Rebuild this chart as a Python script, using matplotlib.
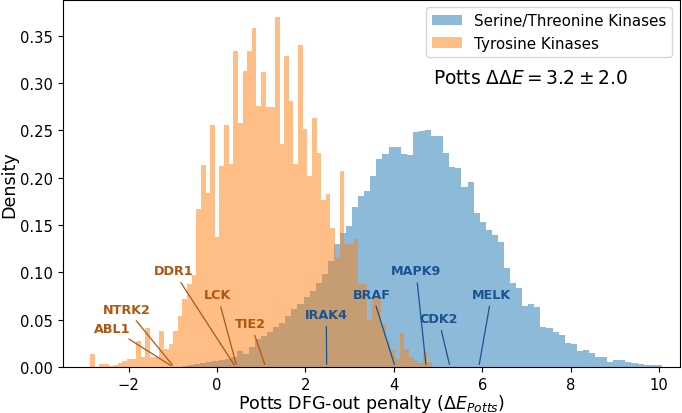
import numpy as np
import matplotlib
matplotlib.use("Agg")
import matplotlib.pyplot as plt

# bin ranges of the two histograms
ser_lo, ser_hi = -0.928, 10.06
tyr_lo, tyr_hi = -2.873, 4.864

# density per bin
ser_dens = [0.0003, 0.0008, 0.002, 0.003, 0.004, 0.005, 0.006, 0.007, 0.008, 0.011,
            0.017, 0.014, 0.021, 0.030, 0.033, 0.0366, 0.042, 0.047, 0.0535, 0.061,
            0.0665, 0.0735, 0.080, 0.089, 0.098, 0.112, 0.130, 0.142, 0.149, 0.169,
            0.181, 0.186, 0.202, 0.220, 0.225, 0.232, 0.233, 0.225, 0.224, 0.248,
            0.249, 0.250, 0.244, 0.244, 0.226, 0.211, 0.210, 0.190, 0.195, 0.163,
            0.153, 0.145, 0.140, 0.132, 0.105, 0.089, 0.084, 0.065, 0.067, 0.063,
            0.0425, 0.041, 0.0366, 0.034, 0.0253, 0.024, 0.017, 0.018, 0.0148, 0.011,
            0.011, 0.0056, 0.007, 0.0077, 0.005, 0.0039, 0.0028, 0.002, 0.002, 0.0017]

tyr_dens = [0.014, 0.0, 0.003, 0.003, 0.001, 0.002, 0.004, 0.006, 0.008, 0.009,
            0.027, 0.011, 0.041, 0.011, 0.011, 0.038, 0.019, 0.024, 0.038, 0.054,
            0.072, 0.088, 0.097, 0.167, 0.213, 0.184, 0.256, 0.137, 0.212, 0.256,
            0.2145, 0.334, 0.258, 0.313, 0.334, 0.358, 0.276, 0.3115, 0.275, 0.275,
            0.370, 0.236, 0.329, 0.281, 0.215, 0.340, 0.252, 0.202, 0.263, 0.226,
            0.176, 0.1825, 0.147, 0.116, 0.207, 0.130, 0.130, 0.135, 0.088, 0.088,
            0.050, 0.073, 0.073, 0.045, 0.028, 0.018, 0.009, 0.036, 0.019, 0.011,
            0.006, 0.004, 0.017, 0.005]

# labelled kinases
tyr_names = ["ABL1", "NTRK2", "DDR1", "LCK", "TIE2"]
tyr_vals = [-0.99, -0.97, 0.42, 0.45, 1.10]
ser_names = ["IRAK4", "BRAF", "MAPK9", "CDK2", "MELK"]
ser_vals = [2.48, 4.03, 4.73, 5.27, 5.92]

# where the label text sits
tyr_txt = [(-2.38, 0.041), (-2.04, 0.061), (-0.99, 0.1016), (0.01, 0.0763), (0.76, 0.046)]
ser_txt = [(2.47, 0.0556), (3.51, 0.077), (4.50, 0.1016), (5.01, 0.0512), (6.21, 0.077)]

fig = plt.figure(figsize=(6.82, 4.14), dpi=100)
ax = fig.add_axes([0.092, 0.111, 0.905, 0.887])

ser_edges = np.linspace(ser_lo, ser_hi, len(ser_dens) + 1)
tyr_edges = np.linspace(tyr_lo, tyr_hi, len(tyr_dens) + 1)
ax.hist(ser_edges[:-1], bins=ser_edges, weights=ser_dens, alpha=0.5,
        label="Serine/Threonine Kinases")
ax.hist(tyr_edges[:-1], bins=tyr_edges, weights=tyr_dens, alpha=0.5,
        label="Tyrosine Kinases")

c_tyr = "#b2560f"
c_ser = "#175490"
for name, v, pos in zip(tyr_names, tyr_vals, tyr_txt):
    ax.annotate(name, xy=(v, 0), xytext=pos, ha="center", va="center",
                fontsize=9.2, fontweight="bold", color=c_tyr,
                arrowprops=dict(arrowstyle="-", color=c_tyr, lw=0.9))
for name, v, pos in zip(ser_names, ser_vals, ser_txt):
    ax.annotate(name, xy=(v, 0), xytext=pos, ha="center", va="center",
                fontsize=9.2, fontweight="bold", color=c_ser,
                arrowprops=dict(arrowstyle="-", color=c_ser, lw=0.9))

ax.text(4.88, 0.300, r"Potts $\Delta\Delta E = 3.2 \pm 2.0$", fontsize=13.4,
        ha="left", va="baseline")

ax.set_xlim(-3.49, 10.47)
ax.set_ylim(0, 0.388)
ax.set_xticks([-2, 0, 2, 4, 6, 8, 10])
ax.set_yticks([0, 0.05, 0.10, 0.15, 0.20, 0.25, 0.30, 0.35])
ax.tick_params(labelsize=10.6)
ax.set_xlabel(r"Potts DFG-out penalty ($\Delta E_{Potts}$)", fontsize=12.6, labelpad=0)
ax.set_ylabel("Density", fontsize=12.6, labelpad=1)
ax.legend(loc="upper right", fontsize=10.9)

fig.savefig("out.png", dpi=100)
